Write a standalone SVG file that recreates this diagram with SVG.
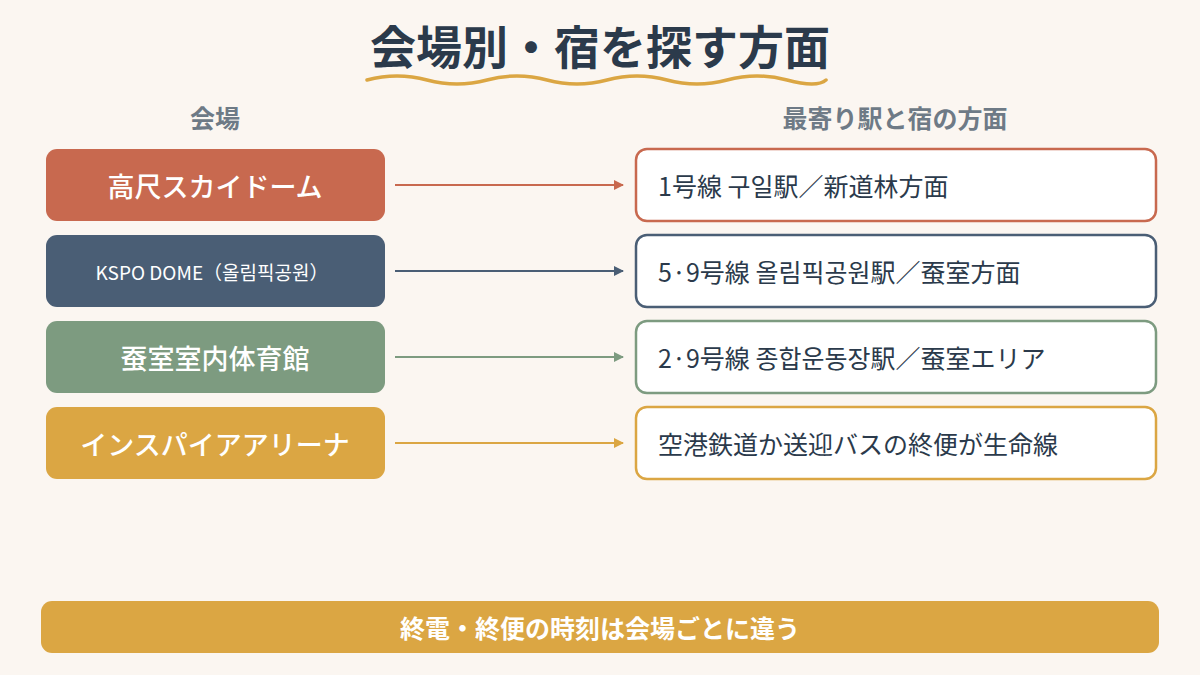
<svg xmlns="http://www.w3.org/2000/svg" width="1200" height="675" viewBox="0 0 1200 675">
<style>
text{font-family:"Noto Sans CJK JP","Noto Sans CJK KR","Noto Sans",sans-serif}
.lt{fill:#fff;font-size:27px;font-weight:500;text-anchor:middle;dominant-baseline:central}
.rt{fill:#2B3A4B;font-size:25px;dominant-baseline:central}
.hd{fill:#6E7A86;font-size:25px;font-weight:700;text-anchor:middle}
.rb{fill:#fff;stroke-width:2.5}
</style>
<defs>
<marker id="a1" viewBox="0 0 10 10" refX="9" refY="5" markerWidth="10" markerHeight="10" markerUnits="userSpaceOnUse" orient="auto"><path d="M0,0L10,5L0,10z" fill="#C8694F"/></marker>
<marker id="a2" viewBox="0 0 10 10" refX="9" refY="5" markerWidth="10" markerHeight="10" markerUnits="userSpaceOnUse" orient="auto"><path d="M0,0L10,5L0,10z" fill="#4A5E75"/></marker>
<marker id="a3" viewBox="0 0 10 10" refX="9" refY="5" markerWidth="10" markerHeight="10" markerUnits="userSpaceOnUse" orient="auto"><path d="M0,0L10,5L0,10z" fill="#7D9B80"/></marker>
<marker id="a4" viewBox="0 0 10 10" refX="9" refY="5" markerWidth="10" markerHeight="10" markerUnits="userSpaceOnUse" orient="auto"><path d="M0,0L10,5L0,10z" fill="#DBA643"/></marker>
</defs>
<rect width="1200" height="675" fill="#FBF6F1"/>
<text x="600" y="64" text-anchor="middle" font-size="46" font-weight="700" fill="#2B3A4B">会場別・宿を探す方面</text>
<path d="M367,80 Q397,72 427,80 T487,80 T547,80 T607,80 T667,80 T727,80 T787,80 T826,80" fill="none" stroke="#DBA643" stroke-width="3.5" stroke-linecap="round"/>
<text class="hd" x="215" y="128">会場</text>
<text class="hd" x="895" y="128">最寄り駅と宿の方面</text>
<g id="connectors" stroke-width="2">
<line x1="395" y1="185" x2="623" y2="185" stroke="#C8694F" marker-end="url(#a1)"/>
<line x1="395" y1="271" x2="623" y2="271" stroke="#4A5E75" marker-end="url(#a2)"/>
<line x1="395" y1="357" x2="623" y2="357" stroke="#7D9B80" marker-end="url(#a3)"/>
<line x1="395" y1="443" x2="623" y2="443" stroke="#DBA643" marker-end="url(#a4)"/>
</g>
<g id="venue1"><rect x="46" y="149" width="339" height="72" rx="11" fill="#C8694F"/><text class="lt" x="215" y="185">高尺スカイドーム</text></g>
<g id="venue2"><rect x="46" y="235" width="339" height="72" rx="11" fill="#4A5E75"/><text class="lt" x="212" y="271" style="font-size:19px;font-weight:400">KSPO DOME（올림픽공원）</text></g>
<g id="venue3"><rect x="46" y="321" width="339" height="72" rx="11" fill="#7D9B80"/><text class="lt" x="215" y="357">蚕室室内体育館</text></g>
<g id="venue4"><rect x="46" y="407" width="339" height="72" rx="11" fill="#DBA643"/><text class="lt" x="215" y="443">インスパイアアリーナ</text></g>
<g id="dest1"><rect class="rb" x="636" y="149" width="520" height="72" rx="11" stroke="#C8694F"/><text class="rt" x="658" y="185">1号線 구일駅／新道林方面</text></g>
<g id="dest2"><rect class="rb" x="636" y="235" width="520" height="72" rx="11" stroke="#4A5E75"/><text class="rt" x="658" y="271">5·9号線 올림픽공원駅／蚕室方面</text></g>
<g id="dest3"><rect class="rb" x="636" y="321" width="520" height="72" rx="11" stroke="#7D9B80"/><text class="rt" x="658" y="357">2·9号線 종합운동장駅／蚕室エリア</text></g>
<g id="dest4"><rect class="rb" x="636" y="407" width="520" height="72" rx="11" stroke="#DBA643"/><text class="rt" x="658" y="443">空港鉄道か送迎バスの終便が生命線</text></g>
<g id="footer"><rect x="41" y="601" width="1118" height="52" rx="11" fill="#DBA643"/><text class="lt" x="600" y="627" style="font-size:25px;font-weight:700">終電・終便の時刻は会場ごとに違う</text></g>
</svg>
